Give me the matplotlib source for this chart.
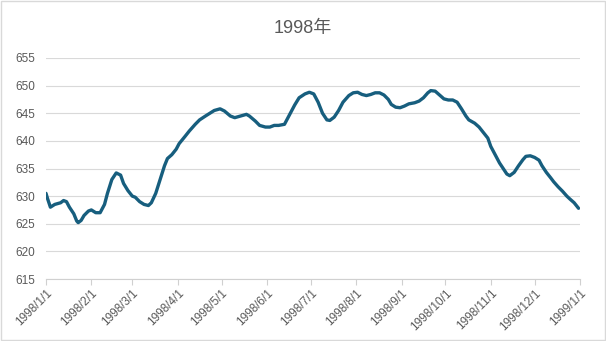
import matplotlib
matplotlib.use('Agg')

import matplotlib.pyplot as plt
import matplotlib.dates as mdates
import pandas as pd

plt.rcParams['font.family'] = ['Liberation Sans', 'Noto Sans CJK SC', 'DejaVu Sans']

# 1998 daily index, sampled every few days
dates = [
    '1998-01-01', '1998-01-02', '1998-01-04', '1998-01-07', '1998-01-11', '1998-01-13',
    '1998-01-15', '1998-01-17', '1998-01-20', '1998-01-22', '1998-01-23', '1998-01-25',
    '1998-01-27', '1998-01-30', '1998-02-01', '1998-02-04', '1998-02-07', '1998-02-10',
    '1998-02-12', '1998-02-15', '1998-02-18', '1998-02-21', '1998-02-23', '1998-02-26',
    '1998-03-01', '1998-03-03', '1998-03-06', '1998-03-09', '1998-03-12', '1998-03-14',
    '1998-03-17', '1998-03-20', '1998-03-23', '1998-03-25', '1998-03-28', '1998-03-31',
    '1998-04-02', '1998-04-06', '1998-04-09', '1998-04-13', '1998-04-16', '1998-04-20',
    '1998-04-23', '1998-04-26', '1998-04-30', '1998-05-03', '1998-05-07', '1998-05-10',
    '1998-05-14', '1998-05-18', '1998-05-20', '1998-05-24', '1998-05-27', '1998-05-31',
    '1998-06-03', '1998-06-06', '1998-06-09', '1998-06-13', '1998-06-16', '1998-06-20',
    '1998-06-23', '1998-06-27', '1998-06-30', '1998-07-03', '1998-07-06', '1998-07-09',
    '1998-07-12', '1998-07-14', '1998-07-17', '1998-07-20', '1998-07-23', '1998-07-27',
    '1998-07-30', '1998-08-02', '1998-08-05', '1998-08-08', '1998-08-11', '1998-08-14',
    '1998-08-17', '1998-08-20', '1998-08-23', '1998-08-25', '1998-08-28', '1998-08-31',
    '1998-09-03', '1998-09-06', '1998-09-10', '1998-09-13', '1998-09-16', '1998-09-19',
    '1998-09-21', '1998-09-24', '1998-09-27', '1998-09-30', '1998-10-03', '1998-10-06',
    '1998-10-09', '1998-10-12', '1998-10-15', '1998-10-17', '1998-10-21', '1998-10-24',
    '1998-10-27', '1998-10-30', '1998-11-01', '1998-11-04', '1998-11-07', '1998-11-10',
    '1998-11-12', '1998-11-14', '1998-11-17', '1998-11-20', '1998-11-23', '1998-11-25',
    '1998-11-28', '1998-12-01', '1998-12-04', '1998-12-06', '1998-12-09', '1998-12-12',
    '1998-12-14', '1998-12-17', '1998-12-20', '1998-12-23', '1998-12-25', '1998-12-28',
    '1998-12-31',
]
values = [
    630.5, 629.6, 628.0, 628.5, 628.8, 629.2,
    629.0, 628.0, 626.8, 625.5, 625.2, 625.6,
    626.5, 627.3, 627.5, 627.0, 627.0, 628.5,
    630.5, 633.0, 634.2, 633.8, 632.3, 631.0,
    630.0, 629.8, 629.0, 628.5, 628.3, 628.8,
    630.5, 633.0, 635.5, 636.8, 637.5, 638.5,
    639.5, 640.8, 641.8, 643.0, 643.8, 644.5,
    645.0, 645.5, 645.8, 645.4, 644.5, 644.2,
    644.5, 644.8, 644.5, 643.6, 642.8, 642.5,
    642.5, 642.8, 642.8, 643.0, 644.5, 646.5,
    647.8, 648.5, 648.8, 648.5, 647.0, 645.0,
    643.8, 643.7, 644.3, 645.5, 647.0, 648.2,
    648.7, 648.8, 648.4, 648.2, 648.4, 648.7,
    648.7, 648.3, 647.5, 646.6, 646.1, 646.0,
    646.3, 646.7, 646.9, 647.2, 647.8, 648.7,
    649.1, 649.0, 648.3, 647.6, 647.4, 647.4,
    647.0, 645.8, 644.5, 643.8, 643.2, 642.5,
    641.5, 640.5, 639.0, 637.5, 636.0, 634.8,
    634.0, 633.7, 634.3, 635.5, 636.6, 637.2,
    637.3, 637.0, 636.5, 635.5, 634.3, 633.3,
    632.6, 631.7, 630.9, 630.0, 629.5, 628.8,
    627.8,
]
month_ticks = pd.date_range('1998-01-01', '1999-01-01', freq='MS')
y_ticks = [615, 620, 625, 630, 635, 640, 645, 650, 655]

x = pd.to_datetime(dates)

fig = plt.figure(figsize=(6.06, 3.41), dpi=100)
ax = fig.add_axes([46 / 606, 1 - 279 / 341, 534 / 606, 221 / 341])

ax.plot(x, values, color='#175e7e', linewidth=2.4, solid_capstyle='round',
        solid_joinstyle='round', zorder=3)

ax.set_xlim(month_ticks[0], month_ticks[-1])
ax.set_ylim(615, 655)
ax.set_yticks(y_ticks)
ax.set_xticks(month_ticks)
ax.xaxis.set_major_formatter(mdates.DateFormatter('%Y/%-m/%-d'))

ax.grid(axis='y', color='#d9d9d9', linewidth=0.8)
ax.set_axisbelow(True)
for side in ['top', 'right', 'left']:
    ax.spines[side].set_visible(False)
ax.spines['bottom'].set_color('#d0d0d0')
ax.spines['bottom'].set_linewidth(0.8)

ax.tick_params(axis='y', length=0, pad=8, labelsize=8.5, labelcolor='#595959')
ax.tick_params(axis='x', length=4, color='#d0d0d0', width=0.8, pad=2,
               labelsize=8.5, labelcolor='#595959')
for lbl in ax.get_xticklabels():
    lbl.set_rotation(45)
    lbl.set_ha('right')
    lbl.set_rotation_mode('anchor')

fig.text(0.5, 1 - 28 / 341, '1998年', ha='center', va='center',
         fontsize=13, color='#595959')

# thin frame around the chart area
fig.patches.append(plt.Rectangle((0.001, 0.002), 0.997, 0.995, transform=fig.transFigure,
                                 fill=False, edgecolor='#d9d9d9', linewidth=1))

plt.savefig('out.png', dpi=100, facecolor='white')
